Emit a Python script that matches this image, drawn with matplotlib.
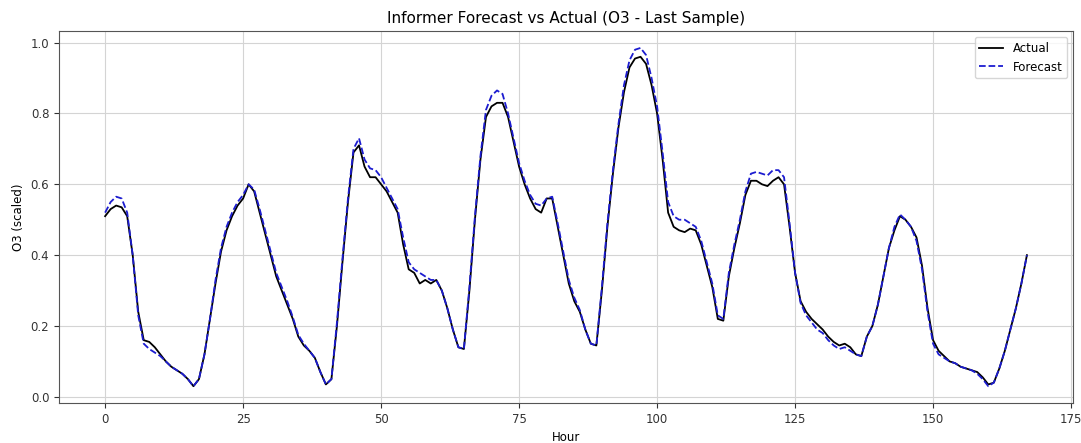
import matplotlib
matplotlib.use("Agg")
import matplotlib.pyplot as plt

# O3 (scaled), hourly, last sample
actual = [
    0.51, 0.53, 0.54, 0.535, 0.51, 0.40, 0.24, 0.16, 0.155, 0.14,
    0.12, 0.10, 0.085, 0.075, 0.065, 0.05, 0.03, 0.05, 0.12, 0.22,
    0.32, 0.41, 0.47, 0.51, 0.54, 0.56, 0.60, 0.58, 0.52, 0.46,
    0.40, 0.34, 0.30, 0.26, 0.22, 0.17, 0.145, 0.13, 0.11, 0.07,
    0.035, 0.05, 0.20, 0.38, 0.55, 0.69, 0.71, 0.65, 0.62, 0.62,
    0.60, 0.58, 0.55, 0.52, 0.43, 0.36, 0.35, 0.32, 0.33, 0.32,
    0.33, 0.30, 0.25, 0.19, 0.14, 0.135, 0.30, 0.50, 0.67, 0.79,
    0.82, 0.83, 0.83, 0.79, 0.72, 0.65, 0.60, 0.56, 0.53, 0.52,
    0.56, 0.56, 0.48, 0.40, 0.32, 0.27, 0.24, 0.19, 0.15, 0.145,
    0.30, 0.48, 0.63, 0.76, 0.86, 0.93, 0.955, 0.96, 0.94, 0.88,
    0.80, 0.67, 0.52, 0.48, 0.47, 0.465, 0.475, 0.47, 0.43, 0.37,
    0.31, 0.22, 0.215, 0.34, 0.42, 0.49, 0.57, 0.61, 0.61, 0.60,
    0.595, 0.61, 0.62, 0.60, 0.48, 0.35, 0.27, 0.24, 0.22, 0.205,
    0.19, 0.17, 0.155, 0.145, 0.15, 0.14, 0.12, 0.115, 0.17, 0.20,
    0.26, 0.34, 0.42, 0.47, 0.51, 0.50, 0.48, 0.45, 0.37, 0.25,
    0.16, 0.13, 0.115, 0.10, 0.095, 0.085, 0.08, 0.075, 0.07, 0.055,
    0.035, 0.04, 0.08, 0.13, 0.19, 0.25, 0.32, 0.40,
]

forecast = [
    0.52, 0.55, 0.565, 0.56, 0.52, 0.40, 0.23, 0.15, 0.135, 0.125,
    0.115, 0.10, 0.085, 0.075, 0.065, 0.05, 0.03, 0.05, 0.12, 0.22,
    0.33, 0.42, 0.48, 0.52, 0.55, 0.57, 0.60, 0.585, 0.53, 0.47,
    0.41, 0.35, 0.31, 0.27, 0.225, 0.175, 0.15, 0.13, 0.11, 0.07,
    0.035, 0.05, 0.21, 0.39, 0.56, 0.70, 0.73, 0.67, 0.645, 0.64,
    0.62, 0.59, 0.56, 0.53, 0.45, 0.38, 0.36, 0.35, 0.34, 0.33,
    0.33, 0.30, 0.25, 0.19, 0.14, 0.135, 0.31, 0.51, 0.68, 0.81,
    0.85, 0.865, 0.855, 0.80, 0.73, 0.66, 0.61, 0.57, 0.545, 0.54,
    0.56, 0.565, 0.49, 0.41, 0.33, 0.28, 0.245, 0.19, 0.15, 0.145,
    0.31, 0.49, 0.64, 0.77, 0.88, 0.95, 0.98, 0.985, 0.965, 0.90,
    0.82, 0.69, 0.55, 0.51, 0.50, 0.50, 0.49, 0.48, 0.44, 0.38,
    0.32, 0.23, 0.22, 0.35, 0.43, 0.50, 0.58, 0.63, 0.635, 0.63,
    0.625, 0.64, 0.64, 0.62, 0.49, 0.35, 0.265, 0.23, 0.21, 0.19,
    0.18, 0.16, 0.145, 0.135, 0.14, 0.13, 0.12, 0.115, 0.17, 0.20,
    0.26, 0.34, 0.42, 0.48, 0.515, 0.50, 0.48, 0.44, 0.36, 0.24,
    0.15, 0.12, 0.11, 0.10, 0.095, 0.085, 0.08, 0.075, 0.065, 0.05,
    0.03, 0.04, 0.08, 0.13, 0.19, 0.25, 0.32, 0.40,
]

hours = list(range(len(actual)))

plt.rcParams["font.size"] = 8.5

fig, ax = plt.subplots(figsize=(10.81, 4.43), dpi=100)
ax.plot(hours, actual, color="black", linewidth=1.3, label="Actual")
ax.plot(hours, forecast, "--", color="#1c1cd0", linewidth=1.3, label="Forecast")
ax.set_title("Informer Forecast vs Actual (O3 - Last Sample)", fontsize=11)
ax.set_xlabel("Hour")
ax.set_ylabel("O3 (scaled)")
ax.grid(True, color="#d4d4d4")
for s in ax.spines.values():
    s.set_color("#555555")
ax.tick_params(colors="#333333")
ax.legend(loc="upper right")
plt.subplots_adjust(left=0.0546, right=0.9926, top=0.93, bottom=0.09)
plt.savefig("out.png")
